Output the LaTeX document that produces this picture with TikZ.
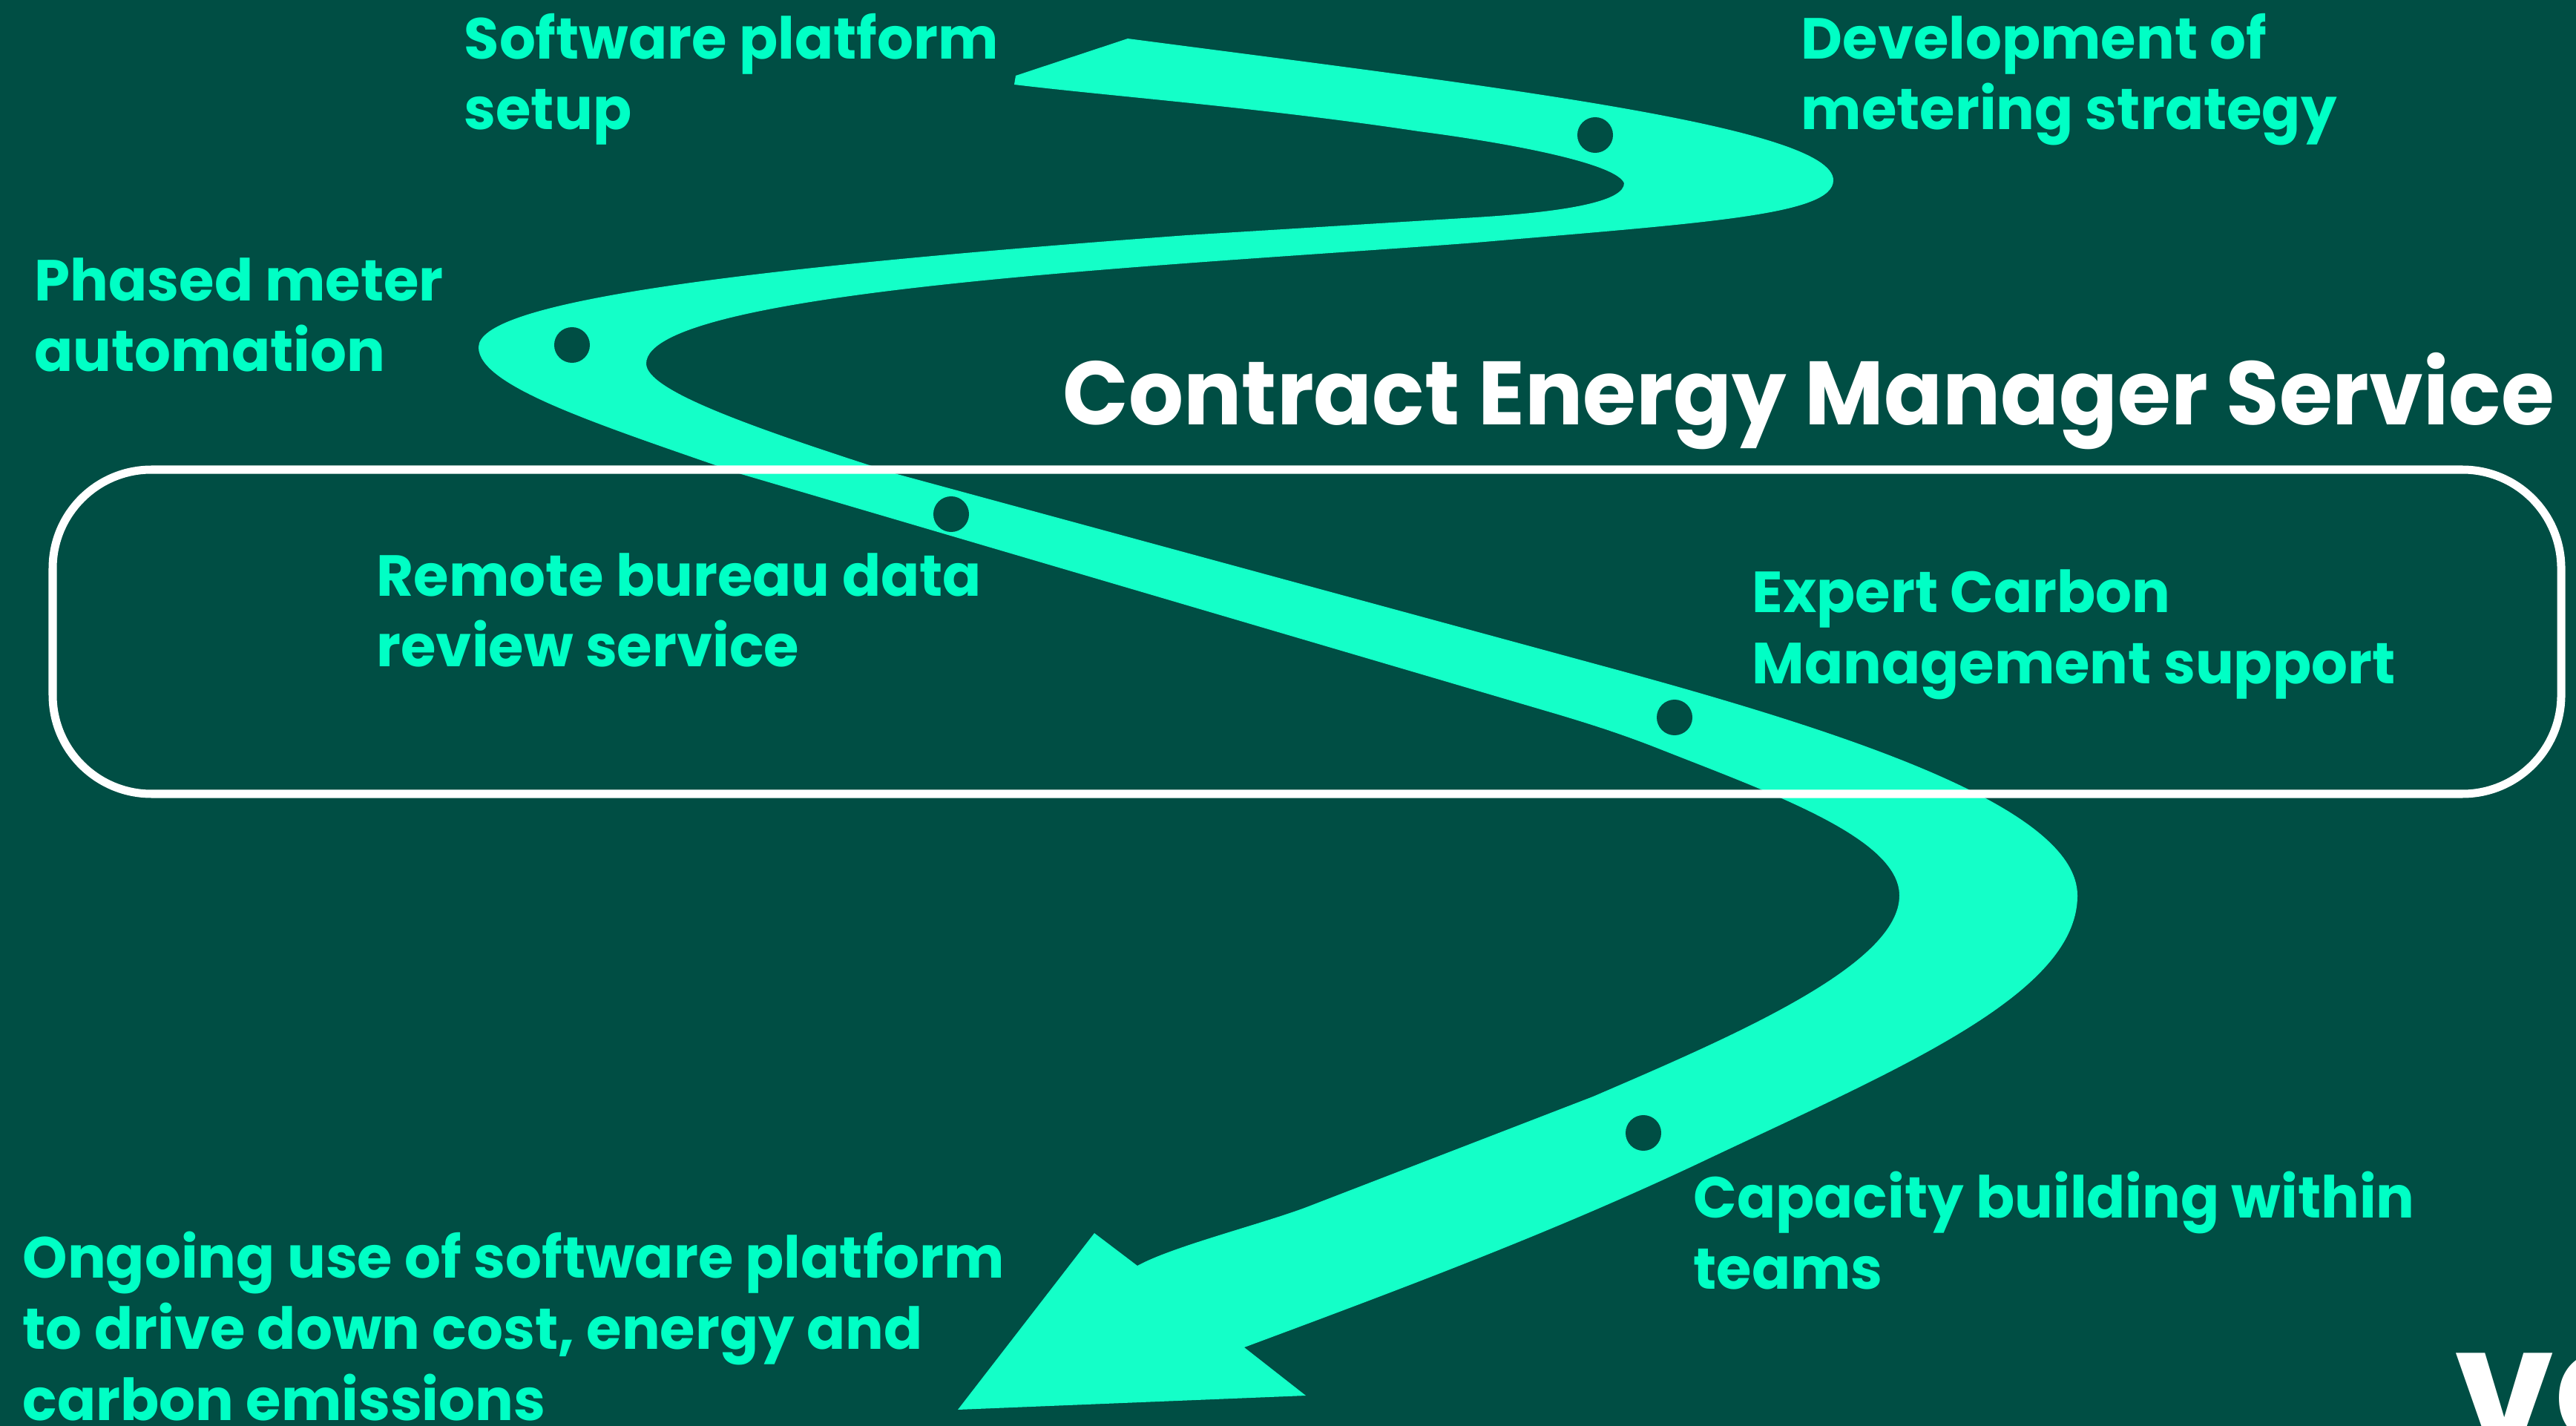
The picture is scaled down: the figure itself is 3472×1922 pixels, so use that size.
\documentclass[tikz,border=0pt]{standalone}
\usepackage{fontspec}
\newfontfamily\labfont{Poppins}[UprightFont=* Bold,FakeStretch=0.985]
\newfontfamily\ttlfont{Poppins}[UprightFont=* Bold,FakeStretch=0.959]
\definecolor{bgc}{HTML}{004E44}
\definecolor{mint}{HTML}{14FFC8}
\definecolor{labc}{HTML}{00FFC5}
\tikzset{
  x=0.01cm,y=-0.01cm,
  lab/.style={anchor=base west,inner sep=0pt,align=left,text=labc,font=\labfont\fontsize{22.2}{27.2}\selectfont},
  ttl/.style={anchor=base west,inner sep=0pt,text=white,font=\ttlfont\fontsize{34.5}{40}\selectfont},
  hole/.style={fill=bgc}
}
\begin{document}
\begin{tikzpicture}
\useasboundingbox (0,0) rectangle (3472,1922);
\clip (0,0) rectangle (3472,1922);
\fill[bgc] (0,0) rectangle (3472,1922);
\fill[mint] (1367,114) -- (1369,102) -- (1520,52)
 .. controls (2000,115) and (2471,170) .. (2471,243)
 .. controls (2471,290) and (2300,300) .. (1989,327)
 .. controls (1600,357) and (871,390) .. (871,490)
 .. controls (871,525) and (1000,572) .. (1209,639)
 -- (2169,900)
 .. controls (2500,990) and (2800,1090) .. (2800,1207)
 .. controls (2800,1340) and (2560,1440) .. (2300,1563)
 .. controls (2100,1658) and (1900,1733) .. (1677,1816)
 -- (1760,1881) -- (1291,1900) -- (1475,1662) -- (1533,1706)
 .. controls (1580,1680) and (1700,1650) .. (1761,1627)
 -- (2147,1478)
 .. controls (2340,1395) and (2560,1300) .. (2560,1207)
 .. controls (2560,1130) and (2390,1070) .. (2238,1010)
 .. controls (2190,991) and (2150,978) .. (2100,963)
 -- (999,639)
 .. controls (800,570) and (645,520) .. (645,468)
 .. controls (645,410) and (950,365) .. (1600,317)
 -- (1989,293)
 .. controls (2120,285) and (2189,270) .. (2189,247)
 .. controls (2180,222) and (2050,195) .. (1912,177)
 .. controls (1700,145) and (1500,130) .. (1367,114) -- cycle;
\foreach \p in {(2150,182),(771,465),(1282,693),(2257,967),(2215,1527)} \fill[hole] \p circle[radius=0.24cm];
\draw[white,line width=0.11cm,rounded corners=1.33cm] (71,633) rectangle (3452,1070);
\node[ttl] (title) at (1432,573) {Contract Energy Manager Service};
\node[lab] (l1) at (625,175) {Software platform\\setup};
\node[lab] (l2) at (2427,175) {Development of\\metering strategy};
\node[lab] (l3) at (46,501) {Phased meter\\automation};
\node[lab] (l4) at (507,899) {Remote bureau data\\review service};
\node[lab] (l5) at (2361,921) {Expert Carbon\\Management support};
\node[lab] (l6) at (2282,1737) {Capacity building within\\teams};
\node[lab] (l7) at (30,1914) {Ongoing use of software platform\\to drive down cost, energy and\\carbon emissions};
\node[anchor=base west,inner sep=0pt,text=white,font=\labfont\fontsize{62}{62}\selectfont] (logo) at (3308,1945) {ve};
\end{tikzpicture}
\end{document}
